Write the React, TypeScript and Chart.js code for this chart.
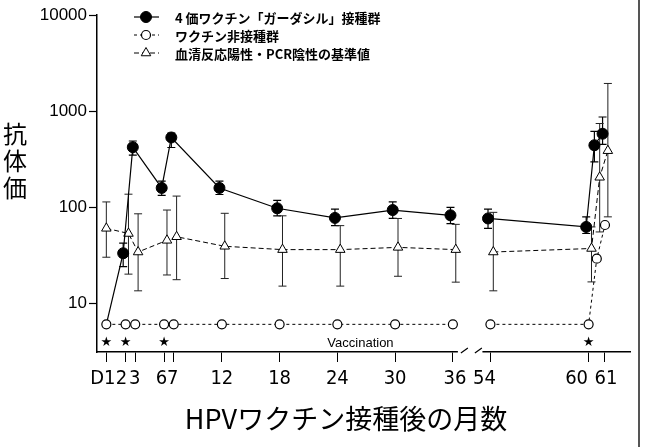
import React, { useEffect, useRef } from 'react';
import { Chart, registerables } from 'chart.js';

Chart.register(...registerables);

// ---- data ----
const tickMonths = [0, 2, 3, 6, 7, 12, 18, 24, 30, 36, 54, 60, 61];
const tickLabels = ['D1', '2', '3', '6', '7', '12', '18', '24', '30', '36', '54', '60', '61'];
const yTickValues = [10, 100, 1000, 10000];
const sampleMonths = [0, 2, 3, 6, 7, 12, 18, 24, 30, 36, 54, 60, 60.5, 61];
const vaccinationMonths = [0, 2, 6, 60];

const seriesNames = [
  '4 価ワクチン「ガーダシル」接種群',
  'ワクチン非接種群',
  '血清反応陽性・PCR陰性の基準値',
];

const gardasilValues = [6, 33, 420, 158, 530, 158, 97, 77, 93, 82, 76, 62, 440, 580];
const gardasilLow = [null, 24, 347, 132, 417, 135, 81, 64, 76, 67, 60, 53, 295, 450];
const gardasilHigh = [null, 42, 487, 186, 588, 186, 117, 95, 113, 99, 95, 79, 613, 866];

const unvaccinatedValues = [6, 6, 6, 6, 6, 6, 6, 6, 6, 6, 6, 6, 29, 65];

const referenceValues = [60, 53, 34, 45, 49, 39, 36, 36, 38, 36, 34, 37, 204, 386];
const referenceLow = [30, 20, 13.4, 19.6, 17.5, 18, 15, 15, 19, 16.5, 13.4, 16.6, 55, 79];
const referenceHigh = [113, 136, 85, 93, 130, 86, 81, 64, 76, 66, 88, 62, 741, 1936];

// ---- layout / style constants ----
const tickLabelShift = [-3.5, -4, -0.5, -2.5, -1, 0, 0, 0, 0, 2, -6, -12, 1];

// broken axis mapping (36 -> 54 is compressed)
const BREAK_START = 36;
const BREAK_END = 54;
const GAP = 3.9;
const RIGHT_SCALE = 1.7;
function axisPos(m: number): number {
  return m <= BREAK_START ? m : BREAK_START + GAP + (m - BREAK_END) * RIGHT_SCALE;
}

function buildPoints(values: (number | null)[], offset: number) {
  const pts: { x: number; y: number | null }[] = [];
  sampleMonths.forEach((m, i) => {
    if (m >= BREAK_END && sampleMonths[i - 1] <= BREAK_START) {
      pts.push({ x: BREAK_START + GAP / 2, y: null });
    }
    pts.push({ x: axisPos(m) + (m === 0 ? 0 : offset), y: values[i] });
  });
  return pts;
}
function buildErr(arr: (number | null)[]) {
  const out: (number | null)[] = [];
  sampleMonths.forEach((m, i) => {
    if (m >= BREAK_END && sampleMonths[i - 1] <= BREAK_START) out.push(null);
    out.push(arr[i]);
  });
  return out;
}

const JP = "'Noto Sans CJK JP', 'Noto Sans', sans-serif";
const NARROW = "'Liberation Sans Narrow', 'DejaVu Sans Condensed', 'Liberation Sans', sans-serif";

function drawMarker(ctx: CanvasRenderingContext2D, style: string, x: number, y: number, r: number, fill: string, stroke: string, lw: number) {
  ctx.save();
  ctx.setLineDash([]);
  ctx.beginPath();
  if (style === 'triangle') {
    let rad = 0;
    ctx.moveTo(x + Math.sin(rad) * r, y - Math.cos(rad) * r);
    rad += (2 * Math.PI) / 3;
    ctx.lineTo(x + Math.sin(rad) * r, y - Math.cos(rad) * r);
    rad += (2 * Math.PI) / 3;
    ctx.lineTo(x + Math.sin(rad) * r, y - Math.cos(rad) * r);
    ctx.closePath();
  } else {
    ctx.arc(x, y, r, 0, Math.PI * 2);
  }
  ctx.fillStyle = fill;
  ctx.fill();
  ctx.lineWidth = lw;
  ctx.strokeStyle = stroke;
  ctx.stroke();
  ctx.restore();
}

const errorBarPlugin = {
  id: 'errorBars',
  beforeDatasetsDraw(chart: any) {
    const { ctx } = chart;
    const yScale = chart.scales.y;
    chart.data.datasets.forEach((ds: any, di: number) => {
      if (!ds.errLow) return;
      const meta = chart.getDatasetMeta(di);
      ctx.save();
      ctx.strokeStyle = ds.errColor;
      ctx.lineWidth = ds.errWidth;
      ctx.setLineDash([]);
      const cap = 4;
      meta.data.forEach((pt: any, j: number) => {
        const lo = ds.errLow[j];
        const hi = ds.errHigh[j];
        if (lo == null || hi == null) return;
        const x = pt.x;
        const y1 = yScale.getPixelForValue(lo);
        const y2 = yScale.getPixelForValue(hi);
        ctx.beginPath();
        ctx.moveTo(x, y1);
        ctx.lineTo(x, y2);
        ctx.moveTo(x - cap, y1);
        ctx.lineTo(x + cap, y1);
        ctx.moveTo(x - cap, y2);
        ctx.lineTo(x + cap, y2);
        ctx.stroke();
      });
      ctx.restore();
    });
  },
};

const decorPlugin = {
  id: 'decor',
  afterDraw(chart: any) {
    const { ctx, chartArea } = chart;
    const xScale = chart.scales.x;
    const axisY = chartArea.bottom;
    ctx.save();

    // axis break
    const p36 = xScale.getPixelForValue(axisPos(BREAK_START));
    const p54 = xScale.getPixelForValue(axisPos(BREAK_END));
    ctx.fillStyle = '#fff';
    ctx.fillRect(p36 + 5, axisY - 2, p54 - p36 - 13, 4);
    ctx.strokeStyle = '#000';
    ctx.lineWidth = 1.2;
    ctx.beginPath();
    ctx.moveTo(p36 + 8, axisY + 1);
    ctx.lineTo(p36 + 15, axisY - 4);
    ctx.moveTo(p36 + 22, axisY + 1);
    ctx.lineTo(p36 + 29, axisY - 4);
    ctx.stroke();

    // x tick labels
    ctx.fillStyle = '#000';
    ctx.font = `20px ${NARROW}`;
    ctx.textAlign = 'center';
    ctx.textBaseline = 'middle';
    tickMonths.forEach((m, i) => {
      ctx.fillText(tickLabels[i], xScale.getPixelForValue(axisPos(m)) + tickLabelShift[i], axisY + 27);
    });

    // vaccination stars
    ctx.font = "13px 'DejaVu Sans'";
    vaccinationMonths.forEach((m) => {
      ctx.fillText('★', xScale.getPixelForValue(axisPos(m)), axisY - 9);
    });
    ctx.font = "13px 'Liberation Sans', Arial, sans-serif";
    ctx.fillText('Vaccination', xScale.getPixelForValue(26.4), axisY - 9);

    // y title (vertical stacked)
    ctx.font = `24px ${JP}`;
    ['抗', '体', '価'].forEach((c, i) => ctx.fillText(c, 15, 134 + i * 27));

    // x title
    ctx.font = `27px ${JP}`;
    ctx.fillText('HPVワクチン接種後の月数', 346, 419);

    // legend
    [0, 1, 2].forEach((di, row) => {
      const ds = chart.data.datasets[di];
      const y = 17 + row * 18;
      ctx.save();
      ctx.strokeStyle = '#000';
      ctx.lineWidth = ds.borderWidth;
      ctx.setLineDash(ds.borderDash || []);
      ctx.beginPath();
      ctx.moveTo(134, y);
      ctx.lineTo(159, y);
      ctx.stroke();
      ctx.restore();
      drawMarker(ctx, ds.pointStyle, 146, y, ds.legendRadius, ds.pointBackgroundColor, '#000', ds.pointBorderWidth);
      ctx.fillStyle = '#000';
      ctx.font = `bold 13px ${JP}`;
      ctx.textAlign = 'left';
      ctx.textBaseline = 'middle';
      ctx.fillText(seriesNames[row], 175, y + 1);
    });
    ctx.restore();
  },
};

export default function App() {
  const canvasRef = useRef<HTMLCanvasElement | null>(null);

  useEffect(() => {
    if (!canvasRef.current) return;
    const chart = new Chart(canvasRef.current, {
      type: 'line',
      data: {
        datasets: [
          {
            label: seriesNames[0],
            data: buildPoints(gardasilValues, -0.25),
            errLow: buildErr(gardasilLow),
            errHigh: buildErr(gardasilHigh),
            errColor: '#000',
            errWidth: 1.2,
            borderColor: '#000',
            borderWidth: 1.2,
            borderDash: [],
            pointStyle: 'circle',
            pointRadius: (c: any) => (c.dataIndex === 0 ? 0 : 5.5),
            legendRadius: 5.5,
            pointBackgroundColor: '#000',
            pointBorderColor: '#000',
            pointBorderWidth: 1,
            order: 1,
          } as any,
          {
            label: seriesNames[1],
            data: buildPoints(unvaccinatedValues, 0),
            borderColor: '#000',
            borderWidth: 1,
            borderDash: [3, 3],
            pointStyle: 'circle',
            pointRadius: 4.5,
            legendRadius: 4.5,
            pointBackgroundColor: '#fff',
            pointBorderColor: '#000',
            pointBorderWidth: 1.2,
            order: 0,
          } as any,
          {
            label: seriesNames[2],
            data: buildPoints(referenceValues, 0.3),
            errLow: buildErr(referenceLow),
            errHigh: buildErr(referenceHigh),
            errColor: '#222',
            errWidth: 1,
            borderColor: '#000',
            borderWidth: 1,
            borderDash: [5, 3],
            pointStyle: 'triangle',
            pointRadius: 5.5,
            legendRadius: 5.5,
            pointBackgroundColor: '#fff',
            pointBorderColor: '#000',
            pointBorderWidth: 1,
            order: 2,
          } as any,
        ],
      },
      options: {
        responsive: false,
        animation: false,
        spanGaps: false,
        layout: { padding: { top: 15, right: 20, left: 0, bottom: 0 } },
        plugins: {
          legend: { display: false },
          tooltip: { enabled: false },
        },
        scales: {
          x: {
            type: 'linear',
            min: -0.97,
            max: 54.4,
            afterBuildTicks: (scale: any) => {
              scale.ticks = tickMonths.map((m) => ({ value: axisPos(m) }));
            },
            afterFit: (scale: any) => {
              scale.height = 95;
            },
            ticks: {
              display: false,
              autoSkip: false,
              maxRotation: 0,
              minRotation: 0,
              callback: (_v: any, i: number) => tickLabels[i],
            },
            grid: {
              drawOnChartArea: false,
              drawTicks: true,
              tickLength: 10,
              tickColor: '#000',
              tickWidth: 1,
            },
            border: { display: true, color: '#000', width: 1.5 },
          },
          y: {
            type: 'logarithmic',
            min: 3.09,
            max: 10000,
            afterBuildTicks: (scale: any) => {
              scale.ticks = yTickValues.map((v) => ({ value: v }));
            },
            afterFit: (scale: any) => {
              scale.width = 97;
            },
            ticks: {
              padding: 2,
              color: '#000',
              font: { family: "'Liberation Sans', Arial, sans-serif", size: 17 },
              callback: (v: any) => String(v),
            },
            grid: {
              drawOnChartArea: false,
              drawTicks: true,
              tickLength: 8,
              tickColor: '#000',
              tickWidth: 1.2,
            },
            border: { display: true, color: '#000', width: 1.5 },
          },
        },
      } as any,
      plugins: [errorBarPlugin, decorPlugin],
    });
    return () => chart.destroy();
  }, []);

  return (
    <div style={{ position: 'absolute', left: 0, top: 0, width: 650, height: 447, background: '#fff' }}>
      <canvas ref={canvasRef} width={650} height={447} style={{ display: 'block' }} />
      <div style={{ position: 'absolute', left: 638, top: 0, width: 2, height: 447, background: '#555' }} />
    </div>
  );
}
